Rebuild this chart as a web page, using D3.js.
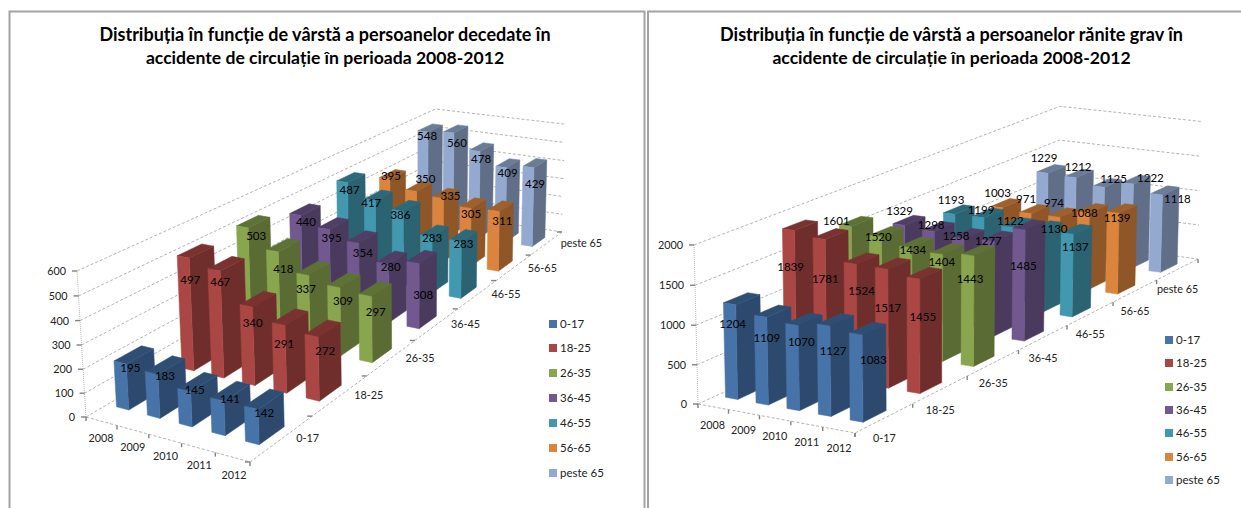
<!DOCTYPE html>
<html>
<head>
<meta charset="utf-8">
<script src="https://cdn.jsdelivr.net/npm/d3@7"></script>
<style>
html,body{margin:0;padding:0;background:#fff;overflow:hidden}
svg{display:block}
text{font-family:Lato,"Open Sans",sans-serif}
</style>
</head>
<body>
<svg id="c" width="1241" height="508"></svg>
<script>
const years = ["2008","2009","2010","2011","2012"];
const groups = ["0-17","18-25","26-35","36-45","46-55","56-65","peste 65"];

// road deaths per age group, one row per age group, 2008-2012
const deaths0to17 = [195,183,145,141,142];
const deaths18to25 = [497,467,340,291,272];
const deaths26to35 = [503,418,337,309,297];
const deaths36to45 = [440,395,354,280,308];
const deaths46to55 = [487,417,386,283,283];
const deaths56to65 = [395,350,335,305,311];
const deathsOver65 = [548,560,478,409,429];

// serious injuries per age group
const injured0to17 = [1204,1109,1070,1127,1083];
const injured18to25 = [1839,1781,1524,1517,1455];
const injured26to35 = [1601,1520,1434,1404,1443];
const injured36to45 = [1329,1298,1258,1277,1485];
const injured46to55 = [1193,1199,1122,1130,1137];
const injured56to65 = [1003,971,974,1088,1139];
const injuredOver65 = [1229,1212,1125,1222,1118];

const deathTicks = [0,100,200,300,400,500,600];
const injuryTicks = [0,500,1000,1500,2000];

// front, side and top shades for each age group
const faceFront = ["#4673a8","#aa4643","#89a54e","#71588f","#4198af","#db843d","#93a9cf"];
const faceSide  = ["#2d4a6e","#6f2e2c","#5a6b33","#4a3a5e","#2b6373","#8f5628","#606e87"];
const faceTop   = ["#2f4e74","#7a3230","#5f7236","#4f3e65","#2c6a7b","#a0602c","#6b7c98"];

// hand placement of the value labels, relative to the bar's top front corner
const deathLabelShift = [
  [[4,4],[7,1],[4,-2],[6,-2],[6,3]],
  [[1,22],[0,11],[0,16],[-1,19],[7,14]],
  [[8,8],[5,17],[-3,14],[3,13],[4,15]],
  [[5,7],[2,8],[4,10],[2,3],[4,31]],
  [[2,7],[-4,2],[-3,4],[0,1],[2,2]],
  [[1,-3],[9,-12],[7,-2],[0,6],[3,9]],
  [[-1,4],[3,10],[1,8],[1,5],[1,16]]
];
const injuryLabelShift = [
  [[-3,19],[0,21],[3,16],[3,25],[11,25]],
  [[-4,36],[0,40],[5,27],[0,39],[3,38]],
  [[-15,-6],[-3,0],[1,2],[-1,8],[-4,23]],
  [[-5,-14],[-3,-7],[-8,-3],[-6,0],[-2,36]],
  [[-4,-14],[-3,-8],[-3,-6],[11,-2],[2,13]],
  [[-5,-15],[-5,-15],[-6,-14],[-5,0],[-2,5]],
  [[-4,-15],[2,-11],[9,-8],[17,-6],[15,4]]
];

const svg = d3.select("#c");

// frames around the two charts
const frame = "#a3a3a3";
svg.append("path").attr("d","M9.5,508V11.5H644.5V508").attr("fill","none").attr("stroke",frame).attr("stroke-width",2);
svg.append("path").attr("d","M648,508V11.5H1241").attr("fill","none").attr("stroke",frame).attr("stroke-width",2);

// Perspective camera: floor corners map the unit square onto a quad,
// and verticals converge on a point far below the chart.
function camera(A,B,C,D,topA,topC){
  const dx1=B[0]-C[0],dx2=D[0]-C[0],sx=A[0]-B[0]+C[0]-D[0];
  const dy1=B[1]-C[1],dy2=D[1]-C[1],sy=A[1]-B[1]+C[1]-D[1];
  const det=dx1*dy2-dx2*dy1;
  const g=(sx*dy2-dx2*sy)/det,h=(dx1*sy-sx*dy1)/det;
  const a=B[0]-A[0]+g*B[0],b=D[0]-A[0]+h*D[0],c=A[0];
  const d=B[1]-A[1]+g*B[1],e=D[1]-A[1]+h*D[1],f=A[1];
  // vanishing point of the verticals
  const m1=(topA[0]-A[0])/(topA[1]-A[1]),m2=(topC[0]-C[0])/(topC[1]-C[1]);
  const vy=(C[0]-A[0]+m1*A[1]-m2*C[1])/(m1-m2),vx=A[0]+m1*(vy-A[1]);
  const k=(topA[1]-A[1])/(vy-topA[1]);
  return (u,v,w)=>{
    const W=g*u+h*v+1+k*w;
    return [(a*u+b*v+c+k*vx*w)/W,(d*u+e*v+f+k*vy*w)/W];
  };
}

const line = d3.line();

function drawChart(cfg){
  const g = svg.append("g");
  const project = camera(...cfg.corners);
  const maxV = d3.max(cfg.ticks);
  const wScale = d3.scaleLinear().domain([0,maxV]).range([0,1]);
  const uBand = d3.scaleBand().domain(years).range([0,1]).paddingInner(0.6).paddingOuter(0.3);
  const vBand = d3.scaleBand().domain(groups).range([0,1]).paddingInner(0.6).paddingOuter(0.3);
  const uEdge = i=>i/years.length, vEdge = i=>i/groups.length;

  // title
  cfg.title.forEach((t,i)=>g.append("text").text(t)
    .attr("x",cfg.titleX).attr("y",41+i*23).attr("text-anchor","middle")
    .attr("font-size",cfg.titleSizes[i]).attr("font-weight",700).attr("fill","#000"));

  // walls and floor edges
  const grid = g.append("g").attr("fill","none").attr("stroke","#b4b4b4").attr("stroke-width",1).attr("stroke-dasharray","3 2");
  cfg.ticks.forEach(t=>{
    const w=wScale(t);
    grid.append("path").attr("d",line([project(0,0,w),project(0,1,w),project(1,1,w)]));
  });
  grid.append("path").attr("d",line([project(0,0,0),project(0,0,1)])).attr("stroke-dasharray","1 1");
  grid.append("path").attr("d",line([project(0,0,0),project(1,0,0),project(1,1,0)]));

  // axis ticks and labels
  const ax = g.append("g");
  const tickStroke = s=>s.attr("stroke","#808080").attr("stroke-width",1.4).attr("fill","none");
  cfg.ticks.forEach(t=>{
    const p=project(0,0,wScale(t));
    tickStroke(ax.append("path").attr("d",line([[p[0]-5,p[1]],[p[0],p[1]]])));
    ax.append("text").text(t).attr("x",p[0]-11).attr("y",p[1]+4).attr("text-anchor","end")
      .attr("font-size",cfg.axisSize).attr("fill","#222");
  });
  d3.range(years.length+1).forEach(i=>{
    const p=project(uEdge(i),0,0);
    tickStroke(ax.append("path").attr("d",line([p,[p[0],p[1]+4]])));
    if(i>0) ax.append("text").text(years[i-1]).attr("x",p[0]+cfg.yearOffset[0]).attr("y",p[1]+cfg.yearOffset[1]+4)
      .attr("text-anchor","middle").attr("font-size",cfg.axisSize).attr("fill","#222");
  });
  d3.range(groups.length+1).forEach(i=>{
    const p=project(1,vEdge(i),0);
    const q=cfg.groupTickVertical?[p[0],p[1]+4]:[p[0]-5,p[1]];
    tickStroke(ax.append("path").attr("d",line([p,q])));
  });
  groups.forEach((name,j)=>{
    const m=project(1,vEdge(j+0.5),0);
    ax.append("text").text(name).attr("x",m[0]+cfg.groupOffset[0]).attr("y",m[1]+cfg.groupOffset[1]+4)
      .attr("text-anchor",cfg.groupAnchor).attr("font-size",cfg.axisSize).attr("fill","#222");
  });

  // bars: far rows first, left to right within a row
  const bars = g.append("g");
  const labels = [];
  d3.range(groups.length-1,-1,-1).forEach(j=>{
    const v0=vBand(groups[j]),v1=v0+vBand.bandwidth();
    years.forEach((y,i)=>{
      const value=cfg.rows[j][i];
      const u0=uBand(y),u1=u0+uBand.bandwidth(),w=wScale(value);
      bars.append("path").attr("fill",faceSide[j]).attr("stroke",faceSide[j]).attr("stroke-width",.5)
        .attr("d",line([project(u1,v0,0),project(u1,v1,0),project(u1,v1,w),project(u1,v0,w)])+"Z");
      bars.append("path").attr("fill",faceTop[j]).attr("stroke",faceTop[j]).attr("stroke-width",.5)
        .attr("d",line([project(u0,v0,w),project(u1,v0,w),project(u1,v1,w),project(u0,v1,w)])+"Z");
      bars.append("path").attr("fill",faceFront[j]).attr("stroke",faceFront[j]).attr("stroke-width",.5)
        .attr("d",line([project(u0,v0,0),project(u1,v0,0),project(u1,v0,w),project(u0,v0,w)])+"Z");
      const s=cfg.labelShift[j][i];
      labels.push({value,p:project(u1,v0,w),s});
    });
  });
  // value labels sit above every bar
  labels.forEach(l=>{
    g.append("text").text(l.value).attr("x",l.p[0]+l.s[0]).attr("y",l.p[1]+l.s[1]+4).attr("text-anchor","middle")
      .attr("font-size",cfg.labelSize).attr("fill","#000");
  });

  // legend
  groups.forEach((name,j)=>{
    const y=cfg.legendY[j];
    g.append("rect").attr("x",cfg.legendX).attr("y",y-4).attr("width",8).attr("height",8).attr("fill",faceFront[j]);
    g.append("text").text(name).attr("x",cfg.legendX+11).attr("y",y+4).attr("font-size",cfg.legendSize).attr("fill","#222");
  });
}

drawChart({
  title:["Distribuția în funcție de vârstă a persoanelor decedate în","accidente de circulație în perioada 2008-2012"],
  titleX:325,titleSizes:[18,17.6],
  corners:[[86,417],[250,462],[562,232],[435,212],[77,271],[565,125]],
  ticks:deathTicks,labelShift:deathLabelShift,
  rows:[deaths0to17,deaths18to25,deaths26to35,deaths36to45,deaths46to55,deaths56to65,deathsOver65],
  axisSize:10.8,labelSize:11.5,legendSize:11.5,
  yearOffset:[-16,13],groupOffset:[14,0],groupAnchor:"start",groupTickVertical:false,
  legendX:549,legendY:[324,348,373,398,423,448,473]
});
drawChart({
  title:["Distribuția în funcție de vârstă a persoanelor rănite grav în","accidente de circulație în perioada 2008-2012"],
  titleX:951.5,titleSizes:[18,17.6],
  corners:[[698,404],[855,433],[1198,259],[1058,240],[694,245],[1202,121]],
  ticks:injuryTicks,labelShift:injuryLabelShift,
  rows:[injured0to17,injured18to25,injured26to35,injured36to45,injured46to55,injured56to65,injuredOver65],
  axisSize:10.8,labelSize:11.5,legendSize:11.5,
  yearOffset:[-16,15],groupOffset:[0,20],groupAnchor:"middle",groupTickVertical:true,
  legendX:1165,legendY:[340,363,387,410,433,457,480]
});
</script>
</body>
</html>
